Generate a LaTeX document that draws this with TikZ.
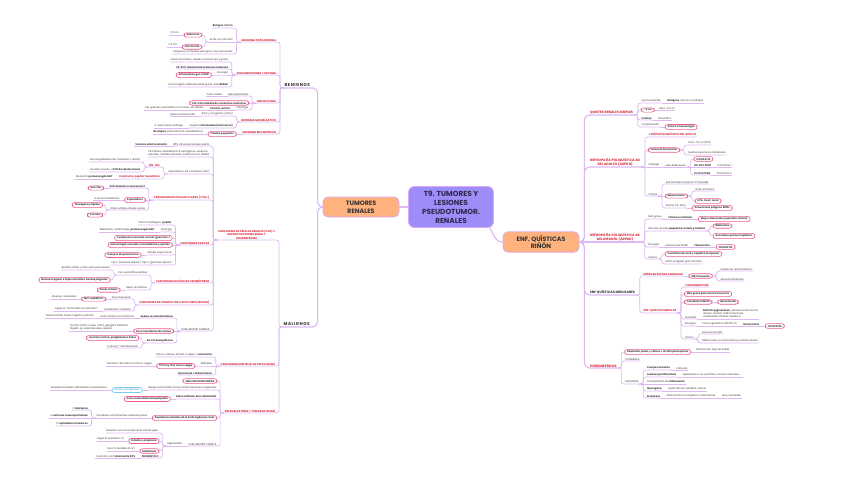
\documentclass[tikz,border=0pt]{standalone}
\usepackage{fontspec}
\setmainfont{Poppins}
\newfontfamily\catfont{Poppins}[LetterSpace=12]
\definecolor{lnc}{HTML}{DDB8F2}
\definecolor{ink}{HTML}{333333}
\definecolor{navy}{HTML}{2B2A4C}
\definecolor{redc}{HTML}{D8283A}
\definecolor{pinkc}{HTML}{EE5B8F}
\definecolor{bluec}{HTML}{7ACBF2}
\definecolor{bluet}{HTML}{3F8FC0}
\definecolor{rootc}{HTML}{9E8DF8}
\definecolor{orc}{HTML}{FFB17E}
\definecolor{edgec}{HTML}{DBA9F5}
% branch to the left / to the right
\newcommand{\lk}[2]{\draw[cn] (#1) -- ++(-4,0) |- (#2);}
\newcommand{\rk}[2]{\draw[cn] (#1) -- ++(4,0) |- (#2);}

\begin{document}
\begin{tikzpicture}[x=1pt, y=-1pt,
    cn/.style={draw=lnc, line width=0.7pt, rounded corners=2.5pt},
    cnb/.style={draw=lnc, line width=1.1pt, rounded corners=5pt},
    tx/.style={font=\fontsize{2.5}{3.1}\selectfont, text=ink, inner xsep=0.6pt, inner ysep=0.7pt},
    txb/.style={tx, font=\fontsize{2.5}{3.1}\selectfont\bfseries},
    rd/.style={tx, font=\fontsize{2.7}{3.4}\selectfont\bfseries, text=redc, align=center},
    rdb/.style={rd, font=\fontsize{3.3}{4.2}\selectfont\bfseries},
    pl/.style={tx, font=\fontsize{2.5}{3.1}\selectfont\bfseries, draw=pinkc, line width=0.6pt, fill=white, rounded corners=2.6pt, inner xsep=2.5pt, inner ysep=1.2pt},
    bpl/.style={pl, draw=bluec, text=bluet, font=\fontsize{2.5}{3.1}\selectfont},
    cat/.style={font=\catfont\bfseries\fontsize{4.2}{5}\selectfont, text=ink, inner xsep=0.5pt, inner ysep=1pt},
    topic/.style={draw=edgec, line width=0.8pt, fill=orc, rounded corners=5pt, minimum width=76pt, minimum height=20pt, align=center, text=ink, font=\bfseries\fontsize{6.3}{7.6}\selectfont},
    root/.style={draw=edgec, line width=0.9pt, fill=rootc, rounded corners=6pt, minimum width=85pt, minimum height=41pt, align=center, text=navy, font=\bfseries\fontsize{7.3}{9}\selectfont},
    L/.style={anchor=south east}, R/.style={anchor=south west}
  ]
  \fill[white] (0,0) rectangle (848,483);
  \useasboundingbox (0,0) rectangle (848,483);

  % centre
  \node[root] (root) at (451,207) {T9. TUMORES Y\\LESIONES\\PSEUDOTUMOR.\\RENALES};
  \node[topic] (tum) at (361,207) {TUMORES\\RENALES};
  \node[topic] (enf) at (541,242) {ENF. QUÍSTICAS\\RIÑÓN};
  \draw[cnb] (root.west) -- (tum.east);
  \draw[cnb] ([xshift=-4pt]root.south east) to[out=-60, in=180] (enf.west);

  % tumores renales
  \node[cat, R] (ben) at (284,88) {BENIGNOS};
  \node[cat, R] (mal) at (283,327) {MALIGNOS};
  \draw[cnb] (tum.west) -- ++(-5,0) |- (ben.south west);
  \draw[cnb] (tum.west) -- ++(-5,0) |- (mal.south west);

  % benignos
  \node[rd, L] (adpap) at ([xshift=-7pt]ben.south west |- 0,42) {ADENOMA PAPILAR RENAL};
  \node[rd, L] (angio) at ([xshift=-7pt]ben.south west |- 0,75) {ANGIOMIOLIPOMA = PECOMA};
  \node[rd, L] (onco) at ([xshift=-7pt]ben.south west |- 0,103) {ONCOCITOMA};
  \node[rd, L] (nefme) at ([xshift=-7pt]ben.south west |- 0,122) {NEFROMA MESOBLÁSTICO};
  \node[rd, L] (admet) at ([xshift=-7pt]ben.south west |- 0,134) {ADENOMA METANÉFRICO};
  \foreach \n in {adpap,angio,onco,nefme,admet} {\lk{ben.south west}{\n.south west}}

  \node[txb, L] (adpap1) at ([xshift=-7pt]adpap.south west |- 0,28) {Benigno <5 mm};
  \node[tx, L] (adpap2) at ([xshift=-7pt]adpap.south west |- 0,42) {Es dif. por tamaño};
  \node[tx, L] (adpap3) at ([xshift=-7pt]adpap.south west |- 0,54) {Pequeños, corticales, benignos, muy frecuentes};
  \lk{adpap.south west}{adpap1.south west}
  \draw[cn] (adpap.south west) -- (adpap2.south west);
  \lk{adpap.south west}{adpap3.south west}
  \node[pl, anchor=east] (adn) at ([xshift=-7pt]adpap2.south west |- 0,35) {Adenoma};
  \node[pl, anchor=east] (carc) at ([xshift=-7pt]adpap2.south west |- 0,47) {Carcinoma};
  \lk{adpap2.south west}{adn.east}
  \lk{adpap2.south west}{carc.east}
  \node[tx, L] (adn1) at ([xshift=-4pt]adn.west) {<1,5 cm};
  \node[tx, L] (carc1) at ([xshift=-4pt]carc.west) {>1,5 cm};
  \draw[cn] (adn.west) -- (adn1.south west);
  \draw[cn] (carc.west) -- (carc1.south west);

  \node[tx, L] (angio1) at ([xshift=-7pt]angio.south west |- 0,62) {Vasos anómalos, células músculo liso y grasa};
  \node[txb, L] (angio2) at ([xshift=-7pt]angio.south west |- 0,69) {20-30\% relacionado esclerosis tuberosa};
  \node[tx, L] (angio3) at ([xshift=-7pt]angio.south west |- 0,75) {Etiología};
  \node[pl, anchor=east] (angio3a) at ([xshift=-5pt]angio3.south west) {Alteraciones gen mTOR};
  \node[tx, L] (angio4) at ([xshift=-7pt]angio.south west |- 0,87) {Hemorragias. RMN densidad grasa. Alta \textbf{GRASA}};
  \lk{angio.south west}{angio1.south west}
  \lk{angio.south west}{angio2.south west}
  \draw[cn] (angio.south west) -- (angio3.south west) -- (angio3a.east);
  \lk{angio.south west}{angio4.south west}

  \node[tx, L] (onco1) at ([xshift=-7pt]onco.south west |- 0,96) {Bien delimitado};
  \node[tx, L] (onco1a) at ([xshift=-5pt]onco1.south west) {Color caoba};
  \node[pl, anchor=east] (onco2) at ([xshift=-7pt]onco.south west |- 0,103) {Cél. intercaladas de conductos colectores};
  \node[tx, L] (onco3) at ([xshift=-7pt]onco.south west |- 0,110) {Patología};
  \node[txb, L] (onco3a) at ([xshift=-5pt]onco3.south west) {Cicatriz central};
  \node[tx, L] (onco3b) at ([xshift=-5pt]onco3a.south west) {Cél. grandes, eosinófilas, sin mitosis, sin atipias};
  \lk{onco.south west}{onco1.south west}
  \draw[cn] (onco1.south west) -- (onco1a.south west);
  \draw[cn] (onco.south west) -- (onco2.east);
  \lk{onco.south west}{onco3.south west}
  \draw[cn] (onco3.south west) -- (onco3b.south west);

  \node[tx, L] (nefme1) at ([xshift=-7pt]nefme.south west |- 0,116) {Raro y congénito (niños)};
  \node[tx, L] (nefme1a) at ([xshift=-5pt]nefme1.south west) {Masa cerca del hilio};
  \node[tx, L] (nefme2) at ([xshift=-7pt]nefme.south west |- 0,128) {Aspecto \textbf{fasciculado (leiomioma)}};
  \node[tx, L] (nefme2a) at ([xshift=-5pt]nefme2.south west) {A veces tiene cartílago};
  \lk{nefme.south west}{nefme1.south west}
  \draw[cn] (nefme1.south west) -- (nefme1a.south west);
  \lk{nefme.south west}{nefme2.south west}
  \draw[cn] (nefme2.south west) -- (nefme2a.south west);

  \node[pl, anchor=east] (admet1) at ([xshift=-5pt]admet.south west) {Células pequeñas};
  \node[tx, L] (admet1a) at ([xshift=-4pt]admet1.west) {\textbf{No atípico} (d/d nefroma mesoblástico)};
  \draw[cn] (admet.south west) -- (admet1.east);
  \draw[cn] (admet1.west) -- (admet1a.south west);

  % malignos
  \node[rd, L] (ccr) at ([xshift=-7pt]mal.south west |- 0,240) {CARCINOMA DE CÉLULAS RENALES (CCR) =\\ADENOCARCINOMA RENAL =\\HIPERNEFROMA};
  \node[rd, L] (urot) at ([xshift=-7pt]mal.south west |- 0,366) {CARCINOMA UROTELIAL DE PELVIS RENAL};
  \node[rd, L] (wilms) at ([xshift=-7pt]mal.south west |- 0,413) {NEFROBLASTOMA = TUMOR DE WILMS};
  \foreach \n in {ccr,urot,wilms} {\lk{mal.south west}{\n.south west}}

  \node[tx, L] (ccr1) at ([xshift=-7pt]ccr.south west |- 0,146) {85\% cánceres renales adulto};
  \node[txb, L] (ccr1a) at ([xshift=-5pt]ccr1.south west) {Varones edad avanzada};
  \node[tx, L, align=left] (ccr2) at ([xshift=-7pt]ccr.south west |- 0,157) {FR: tabaco, obesidad, HTA, estrógenos, arsénico,\\petróleo, metales pesados, enfermos con diálisis};
  \node[tx, L] (ccr3) at ([xshift=-7pt]ccr.south west |- 0,174) {Esporádicos, Sd. familiares (VHL)};
  \node[rd, L] (ccr4) at ([xshift=-7pt]ccr.south west |- 0,200) {CARCINOMA DE CÉLULAS CLARAS (+frec.)};
  \node[rd, L] (ccr5) at ([xshift=-7pt]ccr.south west |- 0,245) {CARCINOMA PAPILAR};
  \node[rd, L] (ccr6) at ([xshift=-7pt]ccr.south west |- 0,283) {CARCINOMA DE CÉLULAS CROMÓFOBAS};
  \node[rd, L] (ccr7) at ([xshift=-7pt]ccr.south west |- 0,305) {CARCINOMA DE CONDUCTOS COLECTORES (BELLINI)};
  \node[tx, L, font=\fontsize{2.7}{3.3}\selectfont] (ccr8) at ([xshift=-7pt]ccr.south west |- 0,331) {EVALUACIÓN CLÍNICA};
  \foreach \n in {ccr1,ccr2,ccr3,ccr4,ccr5,ccr6,ccr7,ccr8} {\lk{ccr.south west}{\n.south west}}
  \draw[cn] (ccr1.south west) -- (ccr1a.south west);

  \node[rd, L] (vhl) at ([xshift=-7pt]ccr3.south west |- 0,167) {SÍN. VHL};
  \node[rd, L, font=\fontsize{2.6}{3.2}\selectfont\bfseries] (cph) at ([xshift=-7pt]ccr3.south west |- 0,179) {Carcinoma papilar hereditario};
  \lk{ccr3.south west}{vhl.south west}
  \lk{ccr3.south west}{cph.south west}
  \node[tx, L] (vhl1) at ([xshift=-7pt]vhl.south west |- 0,162) {Hemangioblastomas (cerebelo y retina)};
  \node[tx, L] (vhl2) at ([xshift=-7pt]vhl.south west |- 0,172) {Quistes renales + \textbf{CCR de células claras}};
  \lk{vhl.south west}{vhl1.south west}
  \lk{vhl.south west}{vhl2.south west}
  \node[tx, L] (cph1) at ([xshift=-5pt]cph.south west) {Mutación \textbf{protooncogén MET}};
  \draw[cn] (cph.south west) -- (cph1.south west);

  \node[txb, L] (cc1) at ([xshift=-7pt]ccr4.south west |- 0,188) {90\% deleción cromosoma 3};
  \node[pl, anchor=east] (cc1a) at ([xshift=-5pt]cc1.south west) {Gen VHL};
  \node[pl, anchor=east] (cc2) at ([xshift=-7pt]ccr4.south west |- 0,200) {Esporádicos};
  \node[tx, L] (cc2a) at ([xshift=-4pt]cc2.west) {A veces hereditarios};
  \node[tx, L] (cc3) at ([xshift=-7pt]ccr4.south west |- 0,210) {Nidos sólidos células claras};
  \node[pl, anchor=east] (cc3a) at ([xshift=-7pt]cc3.south west |- 0,205) {Glucógeno y lípidos};
  \node[pl, anchor=east] (cc3b) at ([xshift=-7pt]cc3.south west |- 0,215) {Corteza};
  \lk{ccr4.south west}{cc1.south west}
  \draw[cn] (cc1.south west) -- (cc1a.east);
  \draw[cn] (ccr4.south west) -- (cc2.east);
  \draw[cn] (cc2.west) -- (cc2a.south west);
  \lk{ccr4.south west}{cc3.south west}
  \lk{cc3.south west}{cc3a.east}
  \lk{cc3.south west}{cc3b.east}

  \node[tx, L] (pap1) at ([xshift=-7pt]ccr5.south west |- 0,225) {Patrón histológico: \textbf{papilar}};
  \node[tx, L] (pap2) at ([xshift=-7pt]ccr5.south west |- 0,232) {Etiología};
  \node[tx, L] (pap2a) at ([xshift=-5pt]pap2.south west) {Bilaterales, multifocales, \textbf{protooncogén MET}};
  \node[pl, anchor=east] (pap3) at ([xshift=-7pt]ccr5.south west |- 0,238) {Tendencia a necrosis central (gran tam.)};
  \node[pl, anchor=east] (pap4) at ([xshift=-7pt]ccr5.south west |- 0,245) {Hemorragia, necrosis, hemosiderina y quistes};
  \node[tx, L] (pap5) at ([xshift=-7pt]ccr5.south west |- 0,255) {Células espumosas};
  \node[pl, anchor=east] (pap5a) at ([xshift=-5pt]pap5.south west) {Cuerpos de psammoma};
  \node[tx, L] (pap6) at ([xshift=-7pt]ccr5.south west |- 0,265) {Tipo 1 (escasas atipias), Tipo 2 (grandes atipias)};
  \lk{ccr5.south west}{pap1.south west}
  \lk{ccr5.south west}{pap2.south west}
  \draw[cn] (pap2.south west) -- (pap2a.south west);
  \lk{ccr5.south west}{pap3.east}
  \draw[cn] (ccr5.south west) -- (pap4.east);
  \lk{ccr5.south west}{pap5.south west}
  \draw[cn] (pap5.south west) -- (pap5a.east);
  \lk{ccr5.south west}{pap6.south west}

  \node[tx, L] (cro1) at ([xshift=-7pt]ccr6.south west |- 0,275) {Cél. eosinófilas pálidas};
  \node[tx, L] (cro1a) at ([xshift=-7pt]cro1.south west |- 0,270) {Bordes nítidos y halo claro perinuclear};
  \node[pl, anchor=east] (cro1b) at ([xshift=-7pt]cro1.south west |- 0,280) {Núcleo irregular e hipercromático, bordes plegados};
  \node[tx, L] (cro2) at ([xshift=-7pt]ccr6.south west |- 0,290) {Mejor pronóstico};
  \node[pl, anchor=east] (cro2a) at ([xshift=-5pt]cro2.south west) {Pocas mitosis};
  \lk{ccr6.south west}{cro1.south west}
  \lk{cro1.south west}{cro1a.south west}
  \lk{cro1.south west}{cro1b.east}
  \lk{ccr6.south west}{cro2.south west}
  \draw[cn] (cro2.south west) -- (cro2a.east);

  \node[tx, L] (col1) at ([xshift=-7pt]ccr7.south west |- 0,299) {Poco frecuente};
  \node[pl, anchor=east] (col1a) at ([xshift=-5pt]col1.south west) {MUY AGRESIVO};
  \node[tx, L] (col1b) at ([xshift=-4pt]col1a.west) {Jóvenes, medulares};
  \node[tx, L] (col2) at ([xshift=-7pt]ccr7.south west |- 0,311) {Localización medular};
  \node[tx, L] (col2a) at ([xshift=-5pt]col2.south west) {Aspecto “tachonado en tachuela”};
  \lk{ccr7.south west}{col1.south west}
  \draw[cn] (col1.south west) -- (col1a.east);
  \draw[cn] (col1a.west) -- (col1b.south west);
  \lk{ccr7.south west}{col2.south west}
  \draw[cn] (col2.south west) -- (col2a.south west);

  \node[txb, L] (ev1) at ([xshift=-7pt]ccr8.south west |- 0,318) {Suelen ser asintomáticos};
  \node[tx, L] (ev1a) at ([xshift=-5pt]ev1.south west) {Gran tamaño sin síntomas};
  \node[tx, L] (ev1b) at ([xshift=-5pt]ev1a.south west) {Diseminación hueso, hígado y pulmón};
  \node[pl, anchor=east] (ev2) at ([xshift=-7pt]ccr8.south west |- 0,331) {Poca manifestación clínica};
  \node[tx, L, align=left] (ev2a) at ([xshift=-4pt]ev2.west) {Pulmón (50\%), hueso (33\%), ganglios linfáticos,\\hígado, gl. suprarrenales, cerebro};
  \node[txb, L] (ev3) at ([xshift=-7pt]ccr8.south west |- 0,343) {Sd. Paraneoplásicos};
  \node[pl, anchor=east] (ev3a) at ([xshift=-7pt]ev3.south west |- 0,338) {Anemia crónica, poliglobulia o fiebre};
  \node[tx, L] (ev3b) at ([xshift=-7pt]ev3.south west |- 0,348) {A veces 1ª manifestación};
  \lk{ccr8.south west}{ev1.south west}
  \draw[cn] (ev1.south west) -- (ev1b.south west);
  \draw[cn] (ccr8.south west) -- (ev2.east);
  \draw[cn] (ev2.west) -- (ev2a.south west);
  \lk{ccr8.south west}{ev3.south west}
  \lk{ev3.south west}{ev3a.east}
  \lk{ev3.south west}{ev3b.south west}

  \node[tx, L] (uro1) at ([xshift=-7pt]urot.south west |- 0,357) {Pelvis y cálices, similar a vejiga = \textbf{carcinoma}};
  \node[tx, L] (uro2) at ([xshift=-7pt]urot.south west |- 0,366) {Múltiples};
  \node[pl, anchor=east] (uro2a) at ([xshift=-5pt]uro2.south west) {10\% hay tmb tumor vejiga};
  \node[tx, L] (uro2b) at ([xshift=-4pt]uro2a.west) {“Siembra” del mismo tumor a vejiga};
  \node[txb, L] (uro3) at ([xshift=-7pt]urot.south west |- 0,375) {Hematuria + hidronefrosis};
  \lk{urot.south west}{uro1.south west}
  \draw[cn] (urot.south west) -- (uro2.south west) -- (uro2a.east);
  \draw[cn] (uro2a.west) -- (uro2b.south west);
  \lk{urot.south west}{uro3.south west}

  \node[pl, anchor=east] (wil1) at ([xshift=-7pt]wilms.south west |- 0,381) {MÁS FRECUENTE NIÑOS};
  \node[tx, L] (wil2) at ([xshift=-7pt]wilms.south west |- 0,390) {Riesgo aumentado si hay malformaciones congénitas};
  \node[bpl, anchor=east] (wil2a) at ([xshift=-5pt]wil2.south west) {Restos nefrogénicos};
  \node[tx, L] (wil2b) at ([xshift=-4pt]wil2a.west) {Persistencia tejido nefroblástico subcapsular};
  \node[txb, L] (wil3) at ([xshift=-7pt]wilms.south west |- 0,399) {Masa solitaria, bien delimitada};
  \node[pl, anchor=east] (wil3a) at ([xshift=-5pt]wil3.south west) {Gran masa abdominal palpable};
  \node[pl, anchor=east] (wil4) at ([xshift=-7pt]wilms.south west |- 0,418) {Reproduce estadios de la embriogénesis renal};
  \node[tx, L] (wil4a) at ([xshift=-4pt]wil4.west) {3 posibles componentes celulares juntos};
  \node[tx, L] (bl1) at ([xshift=-7pt]wil4a.south west |- 0,410) {1.1 \textbf{blastema}};
  \node[tx, L] (bl2) at ([xshift=-7pt]wil4a.south west |- 0,418) {1.2 \textbf{estroma mesenquimatoso}};
  \node[tx, L] (bl3) at ([xshift=-7pt]wil4a.south west |- 0,426) {1.3 \textbf{epiteliales inmaduros}};
  \node[tx, L, font=\fontsize{2.7}{3.3}\selectfont] (wil5) at ([xshift=-7pt]wilms.south west |- 0,446) {EVALUACIÓN CLÍNICA};
  \node[tx, L] (wil5a) at ([xshift=-5pt]wil5.south west) {Agresividad};
  \lk{wilms.south west}{wil1.east}
  \lk{wilms.south west}{wil2.south west}
  \draw[cn] (wil2.south west) -- (wil2a.east);
  \draw[cn] (wil2a.west) -- (wil2b.south west);
  \lk{wilms.south west}{wil3.south west}
  \draw[cn] (wil3.south west) -- (wil3a.east);
  \lk{wilms.south west}{wil4.east}
  \draw[cn] (wil4.west) -- (wil4a.south west);
  \lk{wil4a.south west}{bl1.south west}
  \draw[cn] (wil4a.south west) -- (bl2.south west);
  \lk{wil4a.south west}{bl3.south west}
  \lk{wilms.south west}{wil5.south west}
  \draw[cn] (wil5.south west) -- (wil5a.south west);

  \node[tx, L] (ag1) at ([xshift=-7pt]wil5a.south west |- 0,433) {Relación con el componente celular ppal.};
  \node[pl, anchor=east] (ag2) at ([xshift=-7pt]wil5a.south west |- 0,441) {Estadio y anaplasia};
  \node[tx, L] (ag2a) at ([xshift=-4pt]ag2.west) {Mejor Px (estadio I-II)};
  \node[pl, anchor=east] (ag3) at ([xshift=-7pt]wil5a.south west |- 0,451) {Metástasis};
  \node[tx, L] (ag3a) at ([xshift=-4pt]ag3.west) {Peor Px (estadio III-IV)};
  \node[txb, L] (ag4) at ([xshift=-7pt]wil5a.south west |- 0,458) {PRONÓSTICO};
  \node[tx, L] (ag4a) at ([xshift=-5pt]ag4.south west) {Curación con \textbf{tratamiento 90\%}};
  \lk{wil5a.south west}{ag1.south west}
  \lk{wil5a.south west}{ag2.east}
  \draw[cn] (ag2.west) -- (ag2a.south west);
  \lk{wil5a.south west}{ag3.east}
  \draw[cn] (ag3.west) -- (ag3a.south west);
  \lk{wil5a.south west}{ag4.south west}
  \draw[cn] (ag4.south west) -- (ag4a.south west);

  % enf. quisticas
  \node[rdb, R] (qrs) at ([xshift=10pt]enf.east |- 0,115) {QUISTES RENALES SIMPLES};
  \node[rdb, R] (adpk) at ([xshift=10pt]enf.east |- 0,167) {NEFROPATÍA POLIQUÍSTICA AD\\DEL ADULTO (ADPKD)};
  \node[rdb, R] (arpk) at ([xshift=10pt]enf.east |- 0,242) {NEFROPATÍA POLIQUÍSTICA AR\\DEL INFANTIL (ARPKD)};
  \node[rdb, R, text=ink] (medu) at ([xshift=10pt]enf.east |- 0,295) {ENF QUÍSTICAS MEDULARES};
  \node[rdb, R] (hidr) at ([xshift=10pt]enf.east |- 0,368) {HIDRONEFROSIS};
  \foreach \n in {qrs,adpk,medu,hidr} {\draw[cnb] (enf.east) -- ++(5,0) |- (\n.south east);}
  \draw[cnb] (enf.east) -- (arpk.south east);

  \node[tx, R] (qrs1) at ([xshift=7pt]qrs.south east |- 0,103) {Muy frecuentes};
  \node[tx, R] (qrs1a) at ([xshift=5pt]qrs1.south east) {\textbf{Benignos}, únicos o múltiples};
  \node[pl, anchor=west] (qrs2) at ([xshift=7pt]qrs.south east |- 0,110) {< 5 cm};
  \node[tx, R] (qrs2a) at ([xshift=4pt]qrs2.east) {Raro >10 cm};
  \node[txb, R] (qrs3) at ([xshift=7pt]qrs.south east |- 0,120) {Corteza};
  \node[tx, R] (qrs3a) at ([xshift=5pt]qrs3.south east) {Pared fina};
  \node[tx, R] (qrs4) at ([xshift=7pt]qrs.south east |- 0,127) {Complicación};
  \node[pl, anchor=west] (qrs4a) at ([xshift=5pt]qrs4.south east) {Rotura o hemorragia};
  \rk{qrs.south east}{qrs1.south east}
  \draw[cn] (qrs1.south east) -- (qrs1a.south east);
  \rk{qrs.south east}{qrs2.west}
  \draw[cn] (qrs2.east) -- (qrs2a.south east);
  \rk{qrs.south east}{qrs3.south east}
  \draw[cn] (qrs3.south east) -- (qrs3a.south east);
  \rk{qrs.south east}{qrs4.south east}
  \draw[cn] (qrs4.south east) -- (qrs4a.west);

  \node[rd, R] (adp1) at ([xshift=7pt]adpk.south east |- 0,137) {= RIÑÓN POLIQUÍSTICO DEL ADULTO};
  \node[pl, anchor=west] (adp2) at ([xshift=7pt]adpk.south east |- 0,150) {Herencia Dominante};
  \node[tx, R] (adp2a) at ([xshift=7pt]adp2.east |- 0,145) {Crom. 16 y 4 (PKD)};
  \node[tx, R] (adp2b) at ([xshift=7pt]adp2.east |- 0,155) {Quistes expansivos bilaterales};
  \node[tx, R] (adp3) at ([xshift=7pt]adpk.south east |- 0,167) {Etiología};
  \node[tx, R] (adp3a) at ([xshift=5pt]adp3.south east) {Gen defectuoso};
  \node[pl, anchor=west] (cil1) at ([xshift=7pt]adp3a.south east |- 0,159) {CILIOPATÍA};
  \node[txb, R] (pkd1) at ([xshift=7pt]adp3a.south east |- 0,167) {85-90\% PKD1};
  \node[tx, R] (pkd1a) at ([xshift=5pt]pkd1.south east) {Policistina 1};
  \node[txb, R] (pkd2) at ([xshift=7pt]adp3a.south east |- 0,175) {10-15\% PKD2};
  \node[tx, R] (pkd2a) at ([xshift=5pt]pkd2.south east) {Policistina 2};
  \node[tx, R] (adp4) at ([xshift=7pt]adpk.south east |- 0,196) {Clínica};
  \node[tx, R] (adp4a) at ([xshift=7pt]adp4.south east |- 0,184) {Asintomática hasta 4ª-5ª década};
  \node[pl, anchor=west] (adp4b) at ([xshift=7pt]adp4.south east |- 0,196) {Masa lumbar};
  \node[tx, R] (adp4b1) at ([xshift=7pt]adp4b.east |- 0,191) {Dolor en flanco};
  \node[pl, anchor=west] (adp4b2) at ([xshift=7pt]adp4b.east |- 0,201) {HTA, insuf. renal};
  \node[tx, R] (adp4c) at ([xshift=7pt]adp4.south east |- 0,208) {Asocia (10-40\%)};
  \node[pl, anchor=west] (adp4c1) at ([xshift=5pt]adp4c.south east) {Aneurismas polígono Willis};
  \rk{adpk.south east}{adp1.south east}
  \rk{adpk.south east}{adp2.west}
  \rk{adp2.east}{adp2a.south east}
  \rk{adp2.east}{adp2b.south east}
  \draw[cn] (adpk.south east) -- (adp3a.south east);
  \rk{adp3a.south east}{cil1.west}
  \draw[cn] (adp3a.south east) -- (pkd1a.south east);
  \rk{adp3a.south east}{pkd2.south east}
  \draw[cn] (pkd2.south east) -- (pkd2a.south east);
  \rk{adpk.south east}{adp4.south east}
  \rk{adp4.south east}{adp4a.south east}
  \draw[cn] (adp4.south east) -- (adp4b.west);
  \rk{adp4b.east}{adp4b1.south east}
  \rk{adp4b.east}{adp4b2.west}
  \rk{adp4.south east}{adp4c.south east}
  \draw[cn] (adp4c.south east) -- (adp4c1.west);

  \node[tx, R] (arp1) at ([xshift=7pt]arpk.south east |- 0,219) {Más grave};
  \node[txb, R] (arp1a) at ([xshift=5pt]arp1.south east) {Clínica en infancia};
  \node[pl, anchor=west] (arp1b) at ([xshift=5pt]arp1a.south east) {Mayor alteración (expresión clínica)};
  \node[tx, R] (arp2) at ([xshift=7pt]arpk.south east |- 0,231) {Riñones: quistes \textbf{pequeños corteza y médula}};
  \node[pl, anchor=west] (arp2a) at ([xshift=7pt]arp2.south east |- 0,226) {Bilaterales};
  \node[pl, anchor=west] (arp2b) at ([xshift=7pt]arp2.south east |- 0,236) {Asociados quistes hepáticos};
  \node[tx, R] (arp3) at ([xshift=7pt]arpk.south east |- 0,247) {Etiología};
  \node[tx, R] (arp3a) at ([xshift=5pt]arp3.south east) {Mutaciones PKHD1};
  \node[txb, R] (arp3b) at ([xshift=5pt]arp3a.south east) {Fibrocistina};
  \node[pl, anchor=west] (cil2) at ([xshift=5pt]arp3b.south east) {CILIOPATÍA};
  \node[tx, R] (arp4) at ([xshift=7pt]arpk.south east |- 0,259) {Clínica};
  \node[pl, anchor=west] (arp4a) at ([xshift=7pt]arp4.south east |- 0,254) {Insuficiencia renal y hepática temprana};
  \node[tx, R] (arp4b) at ([xshift=7pt]arp4.south east |- 0,264) {Riñón e hígado gran tamaño};
  \rk{arpk.south east}{arp1.south east}
  \draw[cn] (arp1.south east) -- (arp1b.west);
  \rk{arpk.south east}{arp2.south east}
  \rk{arp2.south east}{arp2a.west}
  \rk{arp2.south east}{arp2b.west}
  \rk{arpk.south east}{arp3.south east}
  \draw[cn] (arp3.south east) -- (cil2.west);
  \rk{arpk.south east}{arp4.south east}
  \rk{arp4.south east}{arp4a.west}
  \rk{arp4.south east}{arp4b.south east}

  \node[rd, R] (med1) at ([xshift=7pt]medu.south east |- 0,276) {RIÑÓN EN ESPONJA MEDULAR};
  \node[pl, anchor=west] (med1a) at ([xshift=5pt]med1.south east) {Más frecuente};
  \node[tx, R] (med1b) at ([xshift=7pt]med1a.east |- 0,271) {Suelen ser asintomáticos};
  \node[tx, R] (med1c) at ([xshift=7pt]med1a.east |- 0,281) {Asocia nefrolitiasis};
  \node[rd, R] (med2) at ([xshift=7pt]medu.south east |- 0,313) {ENF. QUÍSTICA MEDULAR};
  \rk{medu.south east}{med1.south east}
  \draw[cn] (med1.south east) -- (med1a.west);
  \rk{med1a.east}{med1b.south east}
  \rk{med1a.east}{med1c.south east}
  \rk{medu.south east}{med2.south east}

  \node[rd, R] (nph) at ([xshift=7pt]med2.south east |- 0,287) {= NEFRONOPTISIS};
  \node[pl, anchor=west] (med2a) at ([xshift=7pt]med2.south east |- 0,294) {Más grave pero menos frecuente};
  \node[pl, anchor=west] (med2b) at ([xshift=7pt]med2.south east |- 0,302) {Comienzo infantil};
  \node[pl, anchor=west] (med2b1) at ([xshift=5pt]med2b.east) {Herencia AR};
  \node[tx, R] (med2c) at ([xshift=7pt]med2.south east |- 0,319) {Asociado};
  \node[tx, R, align=left] (med2c1) at ([xshift=5pt]med2c.south east) {\textbf{Retinitis pigmentosa}, apraxia oculomotora,\\retraso mental, malformaciones\\cerebelosas, fibrosis hepática};
  \node[tx, R] (med2d) at ([xshift=7pt]med2.south east |- 0,326) {Etiología};
  \node[tx, R] (med2d1) at ([xshift=5pt]med2d.south east) {3 locus genéticos (NPHP1-3)};
  \node[txb, R] (med2d2) at ([xshift=5pt]med2d1.south east) {Nefrocistina};
  \node[pl, anchor=west] (cil3) at ([xshift=5pt]med2d2.south east) {CILIOPATÍA};
  \node[tx, R] (med2e) at ([xshift=7pt]med2.south east |- 0,339) {Clínica};
  \node[tx, R] (med2e1) at ([xshift=7pt]med2e.south east |- 0,334) {Evoluciona a IRC};
  \node[tx, R] (med2e2) at ([xshift=7pt]med2e.south east |- 0,343) {Defectos de concentración por daño tubular};
  \rk{med2.south east}{nph.south east}
  \rk{med2.south east}{med2a.west}
  \rk{med2.south east}{med2b.west}
  \draw[cn] (med2b.east) -- (med2b1.west);
  \rk{med2.south east}{med2c.south east}
  \draw[cn] (med2c.south east) -- (med2c1.south east);
  \rk{med2.south east}{med2d.south east}
  \draw[cn] (med2d.south east) -- (cil3.west);
  \rk{med2.south east}{med2e.south east}
  \rk{med2e.south east}{med2e1.south east}
  \rk{med2e.south east}{med2e2.south east}

  \node[pl, anchor=west] (hid1) at ([xshift=7pt]hidr.south east |- 0,352) {Dilatación pelvis y cálices + atrofia parénquima};
  \node[tx, R] (hid1a) at ([xshift=4pt]hid1.east) {Obstrucción flujo de salida};
  \node[tx, R] (hid2) at ([xshift=7pt]hidr.south east |- 0,361) {CONGÉNITA};
  \node[tx, R] (hid3) at ([xshift=7pt]hidr.south east |- 0,384) {ADQUIRIDA};
  \rk{hidr.south east}{hid1.west}
  \draw[cn] (hid1.east) -- (hid1a.south east);
  \rk{hidr.south east}{hid2.south east}
  \rk{hidr.south east}{hid3.south east}

  \node[txb, R] (adq1) at ([xshift=7pt]hid3.south east |- 0,370) {Cuerpos extraños};
  \node[tx, R] (adq1a) at ([xshift=5pt]adq1.south east) {Cálculos};
  \node[txb, R] (adq2) at ([xshift=7pt]hid3.south east |- 0,377) {Lesiones proliferativas};
  \node[tx, R] (adq2a) at ([xshift=5pt]adq2.south east) {Hiperplasia o ca. próstata, tumores vesicales, ...};
  \node[tx, R] (adq3) at ([xshift=7pt]hid3.south east |- 0,384) {Acompañada de \textbf{inflamación}};
  \node[txb, R] (adq4) at ([xshift=7pt]hid3.south east |- 0,391) {Neurógena};
  \node[tx, R] (adq4a) at ([xshift=5pt]adq4.south east) {Lesión ME con parálisis vesical};
  \node[txb, R] (adq5) at ([xshift=7pt]hid3.south east |- 0,398) {Embarazo};
  \node[tx, R] (adq5a) at ([xshift=5pt]adq5.south east) {Obstrucción incompleta o intermitente};
  \node[tx, R] (adq5b) at ([xshift=5pt]adq5a.south east) {Leve, reversible};
  \rk{hid3.south east}{adq1.south east}
  \draw[cn] (adq1.south east) -- (adq1a.south east);
  \rk{hid3.south east}{adq2.south east}
  \draw[cn] (adq2.south east) -- (adq2a.south east);
  \draw[cn] (hid3.south east) -- (adq3.south east);
  \rk{hid3.south east}{adq4.south east}
  \draw[cn] (adq4.south east) -- (adq4a.south east);
  \rk{hid3.south east}{adq5.south east}
  \draw[cn] (adq5.south east) -- (adq5b.south east);
\end{tikzpicture}
\end{document}
